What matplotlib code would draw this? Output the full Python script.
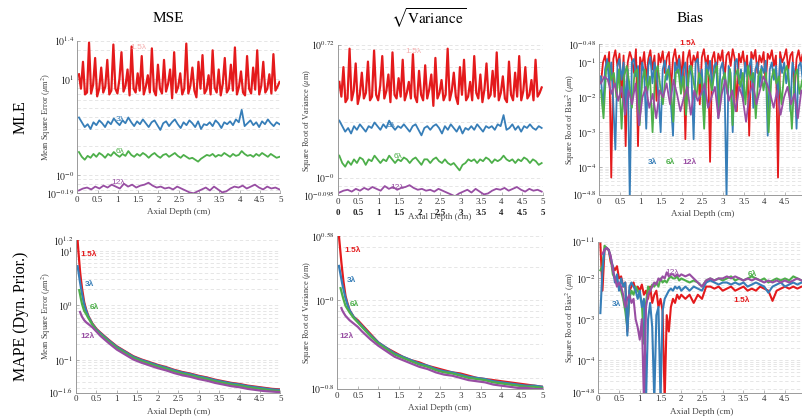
import numpy as np
import matplotlib
matplotlib.use('Agg')
import matplotlib.pyplot as plt
from matplotlib.ticker import FixedLocator, LogLocator, NullFormatter

plt.rcParams['font.family'] = 'Liberation Serif'
plt.rcParams['mathtext.fontset'] = 'stix'

C_15, C_3, C_6, C_12 = '#e41a1c', '#377eb8', '#4daf4a', '#984ea3'

# ---------------- MLE row (log10 values) ----------------
mse_mle_15 = [1.05, 0.90, 1.18, 0.84, 0.86, 1.38, 0.85, 0.94, 1.22, 0.82,
              0.90, 1.12, 0.86, 0.92, 1.20, 0.84, 0.88, 1.36, 0.90, 0.85,
              1.00, 1.28, 0.87, 0.93, 1.10, 0.83, 1.34, 0.90, 0.86, 1.06,
              0.88, 1.24, 0.84, 0.92, 1.04, 0.86, 1.32, 0.88, 0.83, 1.15,
              0.90, 0.85, 1.20, 0.87, 0.95, 1.10, 0.80, 1.28, 0.86, 0.92,
              1.06, 0.84, 0.90, 1.37, 0.85, 0.93, 1.12, 0.88, 0.81, 1.18,
              0.90, 1.25, 0.85, 0.89, 1.04, 0.84, 1.30, 0.91, 0.86, 1.10,
              0.83, 0.95, 1.22, 0.86, 0.90, 1.15, 0.88, 1.33, 0.84, 0.92,
              1.08, 0.86, 0.83, 1.24, 0.90, 0.85, 1.12, 0.89, 1.30, 0.84,
              0.93, 1.18, 0.86, 0.90, 1.05, 0.85, 1.26, 0.88, 0.92, 0.97]
mse_mle_3 = [0.60, 0.55, 0.50, 0.53, 0.48, 0.55, 0.52, 0.57, 0.54, 0.50,
             0.56, 0.53, 0.59, 0.55, 0.52, 0.57, 0.54, 0.60, 0.55, 0.51,
             0.56, 0.53, 0.58, 0.54, 0.50, 0.55, 0.57, 0.52, 0.47, 0.54,
             0.56, 0.51, 0.55, 0.58, 0.53, 0.49, 0.55, 0.52, 0.57, 0.54,
             0.50, 0.56, 0.48, 0.53, 0.52, 0.55, 0.51, 0.57, 0.54, 0.49,
             0.55, 0.53, 0.56, 0.52, 0.58, 0.55, 0.68, 0.51, 0.54, 0.57,
             0.52, 0.55, 0.50, 0.56, 0.53, 0.58, 0.54, 0.51, 0.55, 0.53]
mse_mle_6 = [0.24, 0.19, 0.16, 0.20, 0.18, 0.22, 0.19, 0.23, 0.21, 0.18,
             0.22, 0.20, 0.24, 0.21, 0.19, 0.22, 0.20, 0.25, 0.21, 0.19,
             0.22, 0.20, 0.23, 0.21, 0.18, 0.21, 0.23, 0.20, 0.18, 0.21,
             0.22, 0.19, 0.21, 0.23, 0.20, 0.18, 0.21, 0.19, 0.17, 0.18,
             0.16, 0.14, 0.17, 0.19, 0.21, 0.20, 0.22, 0.19, 0.21, 0.20,
             0.23, 0.21, 0.19, 0.22, 0.20, 0.21, 0.25, 0.22, 0.20, 0.21,
             0.19, 0.22, 0.20, 0.23, 0.21, 0.19, 0.22, 0.20, 0.18, 0.19]
mse_mle_12 = [-0.16, -0.14, -0.13, -0.15, -0.12, -0.14, -0.11, -0.13, -0.10, -0.12,
              -0.14, -0.09, -0.12, -0.10, -0.13, -0.11, -0.10, -0.08, -0.11, -0.13,
              -0.12, -0.14, -0.13, -0.15, -0.12, -0.14, -0.16, -0.18, -0.19, -0.17,
              -0.15, -0.13, -0.16, -0.12, -0.15, -0.18, -0.17, -0.14, -0.12, -0.13,
              -0.11, -0.14, -0.12, -0.10, -0.13, -0.15, -0.12, -0.14, -0.13, -0.15]

var_mle_15 = [0.52, 0.44, 0.60, 0.41, 0.43, 0.70, 0.42, 0.47, 0.62, 0.40,
              0.45, 0.57, 0.43, 0.46, 0.63, 0.42, 0.44, 0.69, 0.45, 0.42,
              0.50, 0.66, 0.43, 0.47, 0.56, 0.41, 0.68, 0.45, 0.43, 0.54,
              0.44, 0.64, 0.42, 0.46, 0.52, 0.43, 0.67, 0.44, 0.41, 0.58,
              0.45, 0.42, 0.61, 0.43, 0.48, 0.56, 0.39, 0.65, 0.43, 0.46,
              0.53, 0.42, 0.45, 0.70, 0.42, 0.47, 0.57, 0.44, 0.40, 0.60,
              0.45, 0.64, 0.42, 0.44, 0.52, 0.42, 0.66, 0.46, 0.43, 0.56,
              0.41, 0.48, 0.62, 0.43, 0.45, 0.58, 0.44, 0.68, 0.42, 0.46,
              0.55, 0.43, 0.41, 0.63, 0.45, 0.42, 0.57, 0.44, 0.66, 0.42,
              0.47, 0.60, 0.43, 0.45, 0.53, 0.42, 0.64, 0.44, 0.46, 0.49]
var_mle_3 = [0.31, 0.28, 0.25, 0.27, 0.24, 0.28, 0.26, 0.29, 0.27, 0.25,
             0.28, 0.27, 0.30, 0.28, 0.26, 0.29, 0.27, 0.31, 0.28, 0.26,
             0.28, 0.27, 0.29, 0.27, 0.25, 0.28, 0.29, 0.26, 0.23, 0.27,
             0.28, 0.26, 0.28, 0.29, 0.27, 0.24, 0.28, 0.26, 0.29, 0.27,
             0.25, 0.28, 0.24, 0.27, 0.26, 0.28, 0.26, 0.29, 0.27, 0.25,
             0.28, 0.27, 0.28, 0.26, 0.29, 0.28, 0.34, 0.26, 0.27, 0.29,
             0.26, 0.28, 0.25, 0.28, 0.27, 0.29, 0.27, 0.26, 0.28, 0.27]
var_mle_6 = [0.12, 0.08, 0.06, 0.09, 0.07, 0.10, 0.08, 0.11, 0.10, 0.07,
             0.10, 0.09, 0.12, 0.10, 0.08, 0.10, 0.09, 0.12, 0.10, 0.08,
             0.10, 0.09, 0.11, 0.10, 0.08, 0.10, 0.11, 0.09, 0.07, 0.10,
             0.10, 0.08, 0.10, 0.11, 0.09, 0.08, 0.10, 0.08, 0.07, 0.08,
             0.06, 0.04, 0.07, 0.08, 0.10, 0.09, 0.10, 0.08, 0.10, 0.09,
             0.11, 0.10, 0.08, 0.10, 0.09, 0.10, 0.12, 0.10, 0.09, 0.10,
             0.08, 0.10, 0.09, 0.11, 0.10, 0.08, 0.10, 0.09, 0.07, 0.08]
var_mle_12 = [-0.08, -0.07, -0.065, -0.075, -0.06, -0.07, -0.055, -0.065, -0.05, -0.06,
              -0.07, -0.045, -0.06, -0.05, -0.065, -0.055, -0.05, -0.04, -0.055, -0.065,
              -0.06, -0.07, -0.065, -0.075, -0.06, -0.07, -0.08, -0.09, -0.10, -0.085,
              -0.075, -0.065, -0.08, -0.06, -0.075, -0.09, -0.085, -0.07, -0.06, -0.065,
              -0.055, -0.07, -0.06, -0.05, -0.065, -0.075, -0.06, -0.07, -0.065, -0.075]

bias_mle_15 = [-1.6, -1.0, -0.8, -1.2, -0.7, -4.3, -0.9, -0.65, -1.1, -0.75,
               -2.0, -0.8, -3.4, -1.0, -0.7, -0.9, -1.3, -0.62, -3.4, -0.85,
               -1.1, -0.7, -1.5, -0.9, -0.65, -1.2, -0.8, -2.1, -0.75, -1.0,
               -0.68, -1.3, -0.85, -0.7, -1.8, -0.9, -0.62, -1.1, -0.8, -1.4,
               -0.7, -3.2, -0.9, -0.65, -1.2, -0.8, -1.0, -0.7, -2.2, -0.85,
               -0.62, -1.1, -0.8, -3.85, -0.9, -0.7, -1.3, -0.75, -0.95, -0.65,
               -1.5, -0.8, -0.7, -1.1, -0.62, -0.9, -2.4, -0.75, -1.0, -0.68,
               -1.2, -0.8, -3.1, -0.7, -0.9, -0.64, -1.3, -0.8, -1.0, -0.7,
               -1.6, -0.75, -0.9, -0.65, -1.1, -0.8, -4.3, -0.7, -1.0, -0.85,
               -0.62, -1.2, -0.8, -0.7, -1.9, -0.9, -0.65, -1.0, -0.75, -1.3]
bias_mle_3 = [-1.4, -2.4, -1.2, -0.9, -1.6, -1.0, -2.2, -3.5, -1.1, -0.9,
              -1.5, -1.0, -2.3, -1.2, -4.9, -1.0, -0.9, -1.4, -1.1, -2.5,
              -1.0, -1.3, -2.9, -1.1, -0.85, -1.6, -1.0, -1.3, -2.0, -3.0,
              -1.2, -0.95, -1.5, -1.1, -2.2, -3.1, -1.0, -1.3, -0.9, -1.7,
              -1.2, -1.0, -2.0, -1.1, -1.4, -3.2, -1.0, -0.9, -1.6, -1.2,
              -2.4, -1.0, -1.3, -0.95, -1.8, -1.1, -1.0, -2.6, -1.2, -1.0,
              -1.5, -4.9, -1.1, -1.3, -3.0, -1.0, -0.9, -1.6, -1.2, -2.1,
              -1.0, -1.4, -1.1, -0.9, -2.3, -1.2, -1.0, -1.7, -1.1, -1.3,
              -0.95, -3.1, -1.2, -1.0, -1.5, -1.1, -2.0, -0.9, -1.3, -1.0,
              -1.6, -1.2, -2.4, -1.0, -1.3, -2.9, -1.1, -1.0, -1.5, -1.2]
bias_mle_6 = [-1.8, -2.6, -1.2, -1.0, -1.5, -1.3, -2.0, -1.2, -2.9, -1.4,
              -1.1, -1.6, -2.3, -1.3, -1.2, -2.8, -1.5, -1.2, -1.8, -1.4,
              -3.0, -1.3, -1.1, -1.7, -2.2, -1.4, -1.2, -1.6, -2.7, -1.3,
              -1.2, -1.9, -1.4, -2.5, -1.3, -1.1, -1.6, -2.0, -1.3, -1.5,
              -2.9, -1.2, -1.4, -1.8, -1.3, -1.1, -2.4, -1.5, -1.3, -1.9,
              -1.2, -2.8, -1.4, -1.2, -1.7, -1.3, -2.2, -1.1, -1.5, -1.3,
              -2.6, -1.4, -1.2, -1.8, -1.3, -3.0, -1.5, -1.2, -1.6, -1.4,
              -2.2, -1.3, -1.1, -1.7, -2.9, -1.4, -1.2, -1.9, -1.5, -2.3]
bias_mle_12 = [-1.6, -1.4, -1.5, -1.9, -1.6, -2.1, -1.7, -2.5, -1.8, -2.2,
               -1.6, -2.8, -2.0, -1.7, -2.3, -1.9, -2.6, -1.8, -2.0, -1.6,
               -2.2, -1.5, -1.9, -2.4, -2.0, -1.7, -2.5, -1.8, -2.1, -1.9,
               -1.6, -2.3, -2.0, -1.7, -2.6, -1.9, -1.5, -2.1, -1.8, -2.4,
               -1.7, -2.0, -2.7, -1.9, -1.6, -2.2, -1.8, -1.4, -1.6, -1.9,
               -2.3, -1.8, -2.5, -2.0, -1.7, -2.2, -1.9, -2.6, -1.8, -2.0]

# ---------------- MAPE row (log10 values) ----------------
depth_mape = [0.04, 0.06, 0.08, 0.10, 0.12, 0.15, 0.20, 0.25, 0.30, 0.40,
              0.5, 0.6, 0.8, 1.0, 1.2, 1.4, 1.6, 1.8, 2.0, 2.2, 2.4, 2.6,
              2.8, 3.0, 3.2, 3.4, 3.6, 3.8, 4.0, 4.2, 4.4, 4.6, 4.8, 5.0]
nan = np.nan
mse_map_15 = [1.18, 0.98, 0.80, 0.62, 0.48, 0.30, 0.06, -0.08, -0.19, -0.33,
              -0.43, -0.50, -0.63, -0.75, -0.84, -0.93, -0.99, -1.04, -1.09, -1.13,
              -1.18, -1.22, -1.25, -1.29, -1.32, -1.36, -1.39, -1.42, -1.44, -1.47,
              -1.49, -1.51, -1.53, -1.54]
mse_map_3 = [0.72, 0.62, 0.52, 0.42, 0.33, 0.20, 0.02, -0.10, -0.20, -0.34,
             -0.44, -0.51, -0.64, -0.76, -0.85, -0.94, -1.00, -1.05, -1.10, -1.14,
             -1.19, -1.23, -1.26, -1.30, -1.33, -1.37, -1.40, -1.43, -1.45, -1.48,
             -1.50, -1.52, -1.54, -1.55]
mse_map_6 = [nan, nan, 0.28, 0.20, 0.12, 0.02, -0.10, -0.16, -0.23, -0.35,
             -0.46, -0.53, -0.66, -0.78, -0.87, -0.96, -1.02, -1.07, -1.12, -1.16,
             -1.21, -1.25, -1.28, -1.32, -1.35, -1.39, -1.42, -1.45, -1.47, -1.50,
             -1.52, -1.54, -1.56, -1.57]
mse_map_12 = [nan, nan, nan, -0.12, -0.16, -0.21, -0.27, -0.31, -0.34, -0.40,
              -0.48, -0.56, -0.69, -0.81, -0.90, -0.99, -1.05, -1.10, -1.15, -1.19,
              -1.24, -1.28, -1.31, -1.35, -1.38, -1.42, -1.45, -1.48, -1.50, -1.53,
              -1.55, -1.57, -1.58, -1.59]

var_map_15 = [0.58, 0.50, 0.42, 0.34, 0.27, 0.17, 0.04, -0.03, -0.09, -0.15,
              -0.18, -0.22, -0.30, -0.38, -0.43, -0.47, -0.51, -0.54, -0.56, -0.59,
              -0.61, -0.63, -0.65, -0.66, -0.68, -0.70, -0.71, -0.72, -0.73, -0.74,
              -0.75, -0.76, -0.77, -0.78]
var_map_3 = [0.31, 0.27, 0.23, 0.19, 0.15, 0.10, 0.02, -0.04, -0.09, -0.15,
             -0.19, -0.23, -0.31, -0.38, -0.43, -0.48, -0.51, -0.54, -0.57, -0.59,
             -0.62, -0.64, -0.65, -0.67, -0.69, -0.70, -0.71, -0.73, -0.74, -0.75,
             -0.76, -0.77, -0.77, -0.78]
var_map_6 = [nan, nan, 0.11, 0.08, 0.05, 0.01, -0.05, -0.08, -0.11, -0.16,
             -0.20, -0.24, -0.32, -0.39, -0.44, -0.49, -0.52, -0.55, -0.58, -0.60,
             -0.63, -0.65, -0.66, -0.68, -0.70, -0.71, -0.72, -0.74, -0.75, -0.76,
             -0.77, -0.78, -0.78, -0.79]
var_map_12 = [nan, nan, nan, -0.07, -0.09, -0.11, -0.14, -0.16, -0.18, -0.21,
              -0.24, -0.28, -0.35, -0.41, -0.46, -0.51, -0.54, -0.57, -0.60, -0.62,
              -0.65, -0.67, -0.68, -0.70, -0.72, -0.73, -0.74, -0.76, -0.77, -0.78,
              -0.79, -0.79, -0.80, -0.80]

depth_bias_map = [0.05, 0.10, 0.15, 0.20, 0.25, 0.30, 0.35, 0.40, 0.45, 0.50,
                  0.55, 0.60, 0.65, 0.70, 0.75, 0.80, 0.85, 0.90, 0.95, 1.00,
                  1.05, 1.10, 1.15, 1.20, 1.25, 1.30, 1.35, 1.40, 1.45, 1.50,
                  1.55, 1.60, 1.65, 1.70, 1.75, 1.80, 1.85, 1.90, 1.95,
                  2.0, 2.1, 2.2, 2.3, 2.4, 2.5, 2.6, 2.7, 2.8, 2.9, 3.0,
                  3.1, 3.2, 3.3, 3.4, 3.5, 3.6, 3.7, 3.8, 3.9, 4.0,
                  4.1, 4.2, 4.3, 4.4, 4.5, 4.6, 4.7, 4.8, 4.9, 5.0]
bias_map_15 = [-1.15, -2.3, -1.3, -1.25, -1.3, -1.6, -1.7, -1.8, -1.7, -2.0,
               -1.95, -2.2, -2.1, -3.3, -2.3, -2.2, -2.1, -2.3, -2.2, -2.3,
               -2.15, -2.4, -2.3, -2.5, -2.2, -2.6, -2.4, -2.3, -2.7, -2.5,
               -2.8, -5.0, -2.9, -3.3, -2.7, -2.5, -2.6, -2.4, -2.5,
               -2.4, -2.5, -2.4, -2.6, -2.4, -2.5, -2.2, -2.2, -2.25, -2.2, -2.3,
               -2.25, -2.2, -2.3, -2.25, -2.2, -2.3, -2.25, -2.3, -2.2, -2.25,
               -2.3, -2.55, -2.3, -2.25, -2.2, -2.25, -2.2, -2.25, -2.2, -2.2]
bias_map_3 = [-2.85, -1.8, -1.3, -1.25, -1.3, -1.5, -1.7, -2.1, -1.9, -2.3,
              -2.0, -2.2, -2.1, -3.4, -2.2, -2.1, -2.2, -2.3, -2.5, -2.3,
              -2.7, -2.5, -5.0, -3.0, -2.6, -3.2, -5.0, -2.9, -2.7, -5.0,
              -2.8, -2.5, -2.4, -2.3, -2.25, -2.3, -2.2, -2.25, -2.2,
              -2.3, -2.2, -2.3, -2.2, -2.25, -2.3, -2.1, -2.05, -2.1, -2.15, -2.1,
              -2.1, -2.15, -2.1, -2.15, -2.1, -2.2, -2.15, -2.1, -2.15, -2.2,
              -2.35, -2.2, -2.15, -2.1, -2.2, -2.15, -2.1, -2.15, -2.1, -2.15]
bias_map_6 = [-1.8, -1.7, -1.2, -1.25, -1.3, -1.5, -1.9, -2.0, -2.1, -2.2,
              -2.3, -2.5, -2.8, -3.2, -2.5, -2.3, -2.4, -2.2, -2.3, -2.4,
              -2.6, -3.6, -2.6, -2.2, -2.3, -2.15, -2.2, -2.1, -2.2, -2.0,
              -2.1, -2.05, -2.1, -2.0, -1.95, -2.0, -2.0, -1.95, -2.05,
              -2.0, -2.05, -2.1, -2.05, -2.1, -2.2, -2.05, -2.0, -2.05, -2.0, -2.05,
              -2.0, -1.95, -2.05, -2.0, -2.05, -2.0, -1.95, -2.0, -2.05, -2.0,
              -2.1, -2.05, -2.0, -2.05, -2.0, -2.05, -1.95, -2.0, -2.05, -2.05]
bias_map_12 = [nan, -1.4, -1.3, -1.25, -1.3, -1.45, -1.8, -2.0, -2.2, -2.1,
               -2.2, -2.4, -2.7, -2.5, -2.4, -2.6, -2.5, -3.0, -3.2, -3.5,
               -3.0, -5.0, -2.7, -2.4, -2.3, -2.2, -2.1, -2.15, -2.0, -2.05,
               -1.95, -2.0, -1.85, -1.95, -1.9, -1.9, -1.95, -1.9, -1.95,
               -1.9, -1.95, -1.9, -2.0, -2.1, -2.2, -2.05, -2.0, -2.05, -2.0, -2.0,
               -1.95, -2.0, -1.95, -2.0, -2.05, -2.0, -2.05, -2.0, -2.05, -2.1,
               -2.05, -2.1, -2.05, -2.1, -2.05, -2.1, -2.05, -2.0, -2.05, -2.1]

xticks = [0, 0.5, 1, 1.5, 2, 2.5, 3, 3.5, 4, 4.5, 5]
xticklabels = ['0', '0.5', '1', '1.5', '2', '2.5', '3', '3.5', '4', '4.5', '5']

W, H = 803, 418


def px_axes(x0, x1, y0, y1):
    # pixel box -> figure fraction
    return fig.add_axes([x0 / W, 1 - y1 / H, (x1 - x0) / W, (y1 - y0) / H])


def style(ax, yexp, ylabels, ylabel, ylabel_x, xlabel_pad=3):
    ax.set_yscale('log')
    ax.set_xlim(0, 5)
    ax.set_ylim(10 ** yexp[-1], 10 ** yexp[0])
    ax.yaxis.set_major_locator(FixedLocator([10 ** e for e in yexp]))
    ax.set_yticklabels(ylabels)
    ax.yaxis.set_minor_locator(LogLocator(base=10, subs=np.arange(2, 10), numticks=100))
    ax.yaxis.set_minor_formatter(NullFormatter())
    ax.set_xticks(xticks)
    ax.set_xticklabels(xticklabels)
    ax.grid(True, axis='y', which='both', ls=(0, (4, 3)), color='#e2e2e2', lw=0.6)
    for s in ['top', 'right']:
        ax.spines[s].set_visible(False)
    for s in ['left', 'bottom']:
        ax.spines[s].set_color('#9a9a9a')
        ax.spines[s].set_linewidth(0.7)
    ax.tick_params(axis='both', which='both', direction='in', labelsize=6.5,
                   colors='#9a9a9a', labelcolor='#333333', length=2, width=0.5, pad=2)
    ax.tick_params(axis='y', which='minor', length=0)
    ax.tick_params(axis='y', labelsize=7, labelcolor='#222222')
    ax.set_ylabel(ylabel, fontsize=6, color='#444444')
    ax.yaxis.set_label_coords(ylabel_x, 0.5)
    ax.set_xlabel('Axial Depth (cm)', fontsize=6.5, color='#444444', labelpad=xlabel_pad)


def series(ax, x, vals, color, lw=1.3):
    ax.plot(x, 10 ** np.asarray(vals, dtype=float), color=color, lw=lw, solid_joinstyle='round')


def grid_of(vals):
    return np.linspace(0.04, 4.98, len(vals))


def tag(ax, x, e, s, color, bold=True):
    ax.text(x, 10 ** e, s, color=color, fontsize=6, family='Liberation Sans',
            fontweight='bold' if bold else 'normal', ha='center', va='center')


fig = plt.figure(figsize=(W / 100, H / 100), dpi=100)

# MLE: MSE
ax = px_axes(77.3, 280.3, 40.7, 193.3)
series(ax, grid_of(mse_mle_15), mse_mle_15, C_15, lw=1.6)
for v, c in [(mse_mle_3, C_3), (mse_mle_6, C_6), (mse_mle_12, C_12)]:
    series(ax, grid_of(v), v, c)
style(ax, [1.4, 1, 0, -0.19],
      [r'$10^{1.4}$', r'$10^{1}$', r'$10^{-0}$', r'$10^{-0.19}$'],
      r'Mean Square Error ($\mu$m$^2$)', -0.12)
tag(ax, 1.5, 1.33, '1.5λ', '#f5b0b0', bold=False)
tag(ax, 1.05, 0.58, '3λ', C_3, bold=False)
tag(ax, 1.05, 0.25, '6λ', C_6, bold=False)
tag(ax, 1.0, -0.08, '12λ', C_12, bold=False)

# MLE: sqrt variance
ax = px_axes(337.7, 542.5, 45.0, 195.3)
series(ax, grid_of(var_mle_15), var_mle_15, C_15, lw=1.6)
for v, c in [(var_mle_3, C_3), (var_mle_6, C_6), (var_mle_12, C_12)]:
    series(ax, grid_of(v), v, c)
style(ax, [0.72, 0, -0.095],
      [r'$10^{0.72}$', r'$10^{-0}$', r'$10^{-0.095}$'],
      r'Square Root of Variance ($\mu$m)', -0.12, xlabel_pad=5)
for xt, lab in zip(xticks, xticklabels):
    ax.text(xt, -0.116, lab, transform=ax.get_xaxis_transform(), fontsize=6.5,
            fontweight='bold', ha='center', va='center', color='#222222')
tag(ax, 1.84, 0.685, '1.5λ', '#f5b0b0', bold=False)
tag(ax, 1.3, 0.285, '3λ', C_3, bold=False)
tag(ax, 1.47, 0.115, '6λ', C_6, bold=False)
tag(ax, 1.46, -0.055, '12λ', C_12, bold=False)

# MLE: bias
ax = px_axes(599.3, 805.6, 44.3, 195.0)
for v, c in [(bias_mle_15, C_15), (bias_mle_3, C_3), (bias_mle_6, C_6), (bias_mle_12, C_12)]:
    series(ax, grid_of(v), v, c)
style(ax, [-0.48, -1, -2, -3, -4, -4.8],
      [r'$10^{-0.48}$', r'$10^{-1}$', r'$10^{-2}$', r'$10^{-3}$', r'$10^{-4}$', r'$10^{-4.8}$'],
      r'Square Root of Bias$^2$ ($\mu$m)', -0.11)
tag(ax, 2.15, -0.45, '1.5λ', C_15)
tag(ax, 1.3, -3.88, '3λ', C_3)
tag(ax, 1.73, -3.88, '6λ', C_6)
tag(ax, 2.18, -3.88, '12λ', C_12)

# MAPE: MSE
ax = px_axes(76.0, 280.4, 240.0, 392.7)
for v, c in [(mse_map_15, C_15), (mse_map_3, C_3), (mse_map_6, C_6), (mse_map_12, C_12)]:
    series(ax, depth_mape, v, c, lw=1.6)
style(ax, [1.2, 1, 0, -1, -1.6],
      [r'$10^{1.2}$', r'$10^{1}$', r'$10^{0}$', r'$10^{-1}$', r'$10^{-1.6}$'],
      r'Mean Square Error ($\mu$m$^2$)', -0.113)
tag(ax, 0.32, 0.93, '1.5λ', C_15)
tag(ax, 0.34, 0.39, '3λ', C_3)
tag(ax, 0.44, -0.03, '6λ', C_6)
tag(ax, 0.28, -0.57, '12λ', C_12)

# MAPE: sqrt variance
ax = px_axes(337.3, 542.5, 236.0, 389.0)
for v, c in [(var_map_15, C_15), (var_map_3, C_3), (var_map_6, C_6), (var_map_12, C_12)]:
    series(ax, depth_mape, v, c, lw=1.6)
style(ax, [0.58, 0, -0.8],
      [r'$10^{0.58}$', r'$10^{-0}$', r'$10^{-0.8}$'],
      r'Square Root of Variance ($\mu$m)', -0.118)
tag(ax, 0.37, 0.445, '1.5λ', C_15)
tag(ax, 0.35, 0.18, '3λ', C_3)
tag(ax, 0.41, -0.04, '6λ', C_6)
tag(ax, 0.23, -0.33, '12λ', C_12)

# MAPE: bias
ax = px_axes(598.3, 805.7, 241.7, 392.7)
for v, c in [(bias_map_15, C_15), (bias_map_6, C_6), (bias_map_3, C_3), (bias_map_12, C_12)]:
    series(ax, depth_bias_map, v, c, lw=1.5)
style(ax, [-1.1, -2, -3, -4, -4.8],
      [r'$10^{-1.1}$', r'$10^{-2}$', r'$10^{-3}$', r'$10^{-4}$', r'$10^{-4.8}$'],
      r'Square Root of Bias$^2$ ($\mu$m)', -0.103)
tag(ax, 1.79, -1.86, '12λ', C_12, bold=False)
tag(ax, 3.71, -1.90, '6λ', C_6)
tag(ax, 3.46, -2.53, '1.5λ', C_15)
tag(ax, 0.43, -2.63, '3λ', C_3)

# column and row headings
for xp, t in [(168, 'MSE'), (429, r'$\sqrt{\mathrm{Variance}}$'), (690, 'Bias')]:
    fig.text(xp / W, 1 - 18 / H, t, fontsize=11, ha='center', va='center')
fig.text(21 / W, 1 - 117 / H, 'MLE', fontsize=11.5, rotation=90, ha='center', va='center')
fig.text(21 / W, 1 - 316 / H, 'MAPE (Dyn. Prior.)', fontsize=11.5, rotation=90,
         ha='center', va='center')

fig.savefig('out.png', dpi=100)
